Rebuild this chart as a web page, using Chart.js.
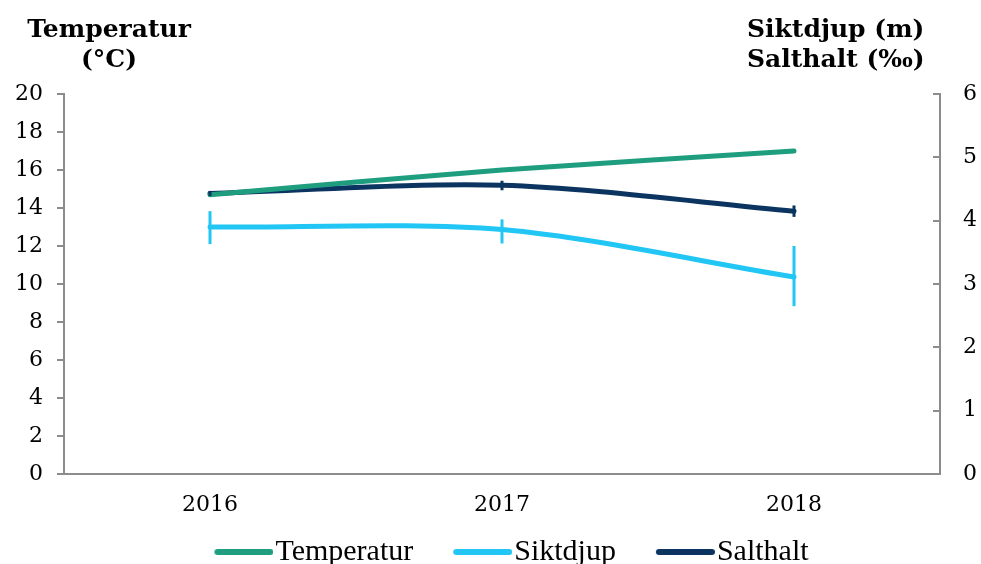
<!DOCTYPE html>
<html>
<head>
<meta charset="utf-8">
<script src="https://cdn.jsdelivr.net/npm/chart.js@4.4.0/dist/chart.umd.min.js"></script>
<style>
  html, body { margin: 0; padding: 0; background: #fff; }
  #wrap { width: 981px; height: 564px; position: relative; }
</style>
</head>
<body>
<div id="wrap"><canvas id="chart" width="981" height="564"></canvas></div>
<script>
// data
const years = ['2016', '2017', '2018'];
const temperatur = [14.7, 16.0, 17.0];
const siktdjup = [3.90, 3.86, 3.11];
const siktdjupLow = [3.63, 3.64, 2.65];
const siktdjupHigh = [4.15, 4.02, 3.60];
const salthalt = [4.43, 4.56, 4.15];
const salthaltLow = [4.39, 4.48, 4.06];
const salthaltHigh = [4.47, 4.63, 4.24];

const leftMax = 20, leftStep = 2;
const rightMax = 6, rightStep = 1;
const leftTitle = ['Temperatur', '(°C)'];
const rightTitle = ['Siktdjup (m)', 'Salthalt (‰)'];

const serif = "'DejaVu Serif', 'Liberation Serif', serif";
const legendSerif = "'Liberation Serif', serif";
const axisGrey = '#8c8c8c';

// legend swatch: thick line pushed right so it sits close to its text
function swatch(color) {
  const c = document.createElement('canvas');
  c.width = 94;
  c.height = 10;
  const g = c.getContext('2d');
  g.strokeStyle = color;
  g.lineWidth = 6;
  g.lineCap = 'round';
  g.beginPath();
  g.moveTo(38, 5);
  g.lineTo(91, 5);
  g.stroke();
  return c;
}

// error bars, drawn through the y scale of each dataset
const errorBars = {
  id: 'errorBars',
  afterDatasetsDraw(chart) {
    const ctx = chart.ctx;
    chart.data.datasets.forEach((ds, i) => {
      if (!ds.errLow) return;
      const meta = chart.getDatasetMeta(i);
      const yScale = chart.scales[meta.yAxisID];
      ctx.save();
      ctx.strokeStyle = ds.borderColor;
      ctx.lineWidth = 3;
      meta.data.forEach((pt, j) => {
        ctx.beginPath();
        ctx.moveTo(pt.x, yScale.getPixelForValue(ds.errLow[j]));
        ctx.lineTo(pt.x, yScale.getPixelForValue(ds.errHigh[j]));
        ctx.stroke();
      });
      ctx.restore();
    });
  }
};

// nudge the legend row a little to the right
const legendShift = {
  id: 'legendShift',
  afterLayout(chart) {
    if (!chart.legend) return;
    chart.legend.left += 10;
    chart.legend.right += 10;
  }
};

// horizontal axis titles at the top corners
const axisTitles = {
  id: 'axisTitles',
  afterDraw(chart) {
    const ctx = chart.ctx;
    ctx.save();
    ctx.fillStyle = '#000';
    ctx.font = 'bold 25px ' + serif;
    ctx.textBaseline = 'alphabetic';
    ctx.textAlign = 'center';
    ctx.fillText(leftTitle[0], 109, 37);
    ctx.fillText(leftTitle[1], 109, 67);
    ctx.textAlign = 'left';
    ctx.fillText(rightTitle[0], 747, 37);
    ctx.fillText(rightTitle[1], 747, 67);
    ctx.restore();
  }
};

const ctx = document.getElementById('chart');
new Chart(ctx, {
  type: 'line',
  data: {
    labels: years,
    datasets: [
      {
        label: 'Temperatur',
        data: temperatur,
        yAxisID: 'y',
        borderColor: '#1f9e7f',
        backgroundColor: '#1f9e7f',
        borderWidth: 5,
        borderCapStyle: 'round',
        pointRadius: 0,
        pointStyle: swatch('#1f9e7f'),
        tension: 0.3
      },
      {
        label: 'Siktdjup',
        data: siktdjup,
        errLow: siktdjupLow,
        errHigh: siktdjupHigh,
        yAxisID: 'y1',
        borderColor: '#22c6f4',
        backgroundColor: '#22c6f4',
        borderWidth: 5,
        borderCapStyle: 'round',
        pointRadius: 0,
        pointStyle: swatch('#22c6f4'),
        tension: 0.3
      },
      {
        label: 'Salthalt',
        data: salthalt,
        errLow: salthaltLow,
        errHigh: salthaltHigh,
        yAxisID: 'y1',
        borderColor: '#0b3461',
        backgroundColor: '#0b3461',
        borderWidth: 5,
        borderCapStyle: 'round',
        pointRadius: 0,
        pointStyle: swatch('#0b3461'),
        tension: 0.3
      }
    ]
  },
  options: {
    responsive: false,
    animation: false,
    devicePixelRatio: 1,
    layout: { padding: { top: 94, left: 0, right: 0, bottom: -13 } },
    plugins: {
      legend: {
        position: 'bottom',
        labels: {
          usePointStyle: true,
          pointStyleWidth: 68,
          color: '#000',
          font: { family: legendSerif, size: 30 },
          padding: 18
        }
      },
      tooltip: { enabled: false }
    },
    scales: {
      x: {
        offset: true,
        grid: { display: false, drawTicks: false },
        border: { color: axisGrey, width: 2 },
        ticks: { color: '#000', font: { family: serif, size: 22 }, padding: 18 },
        afterFit(scale) { scale.height = 45; }
      },
      y: {
        position: 'left',
        min: 0,
        max: leftMax,
        ticks: { stepSize: leftStep, color: '#000', font: { family: serif, size: 22 }, padding: 14 },
        grid: { drawOnChartArea: false, color: axisGrey, lineWidth: 2, tickLength: 7 },
        border: { color: axisGrey, width: 2 },
        afterFit(scale) { scale.width = 64; }
      },
      y1: {
        position: 'right',
        min: 0,
        max: rightMax,
        // negative tick length: marks point into the plot, like the original
        ticks: { stepSize: rightStep, color: '#000', font: { family: serif, size: 22 }, padding: 30 },
        grid: { drawOnChartArea: false, color: axisGrey, lineWidth: 2, tickLength: -7 },
        border: { color: axisGrey, width: 2 },
        afterFit(scale) { scale.width = 41; }
      }
    }
  },
  plugins: [errorBars, legendShift, axisTitles]
});
</script>
</body>
</html>
